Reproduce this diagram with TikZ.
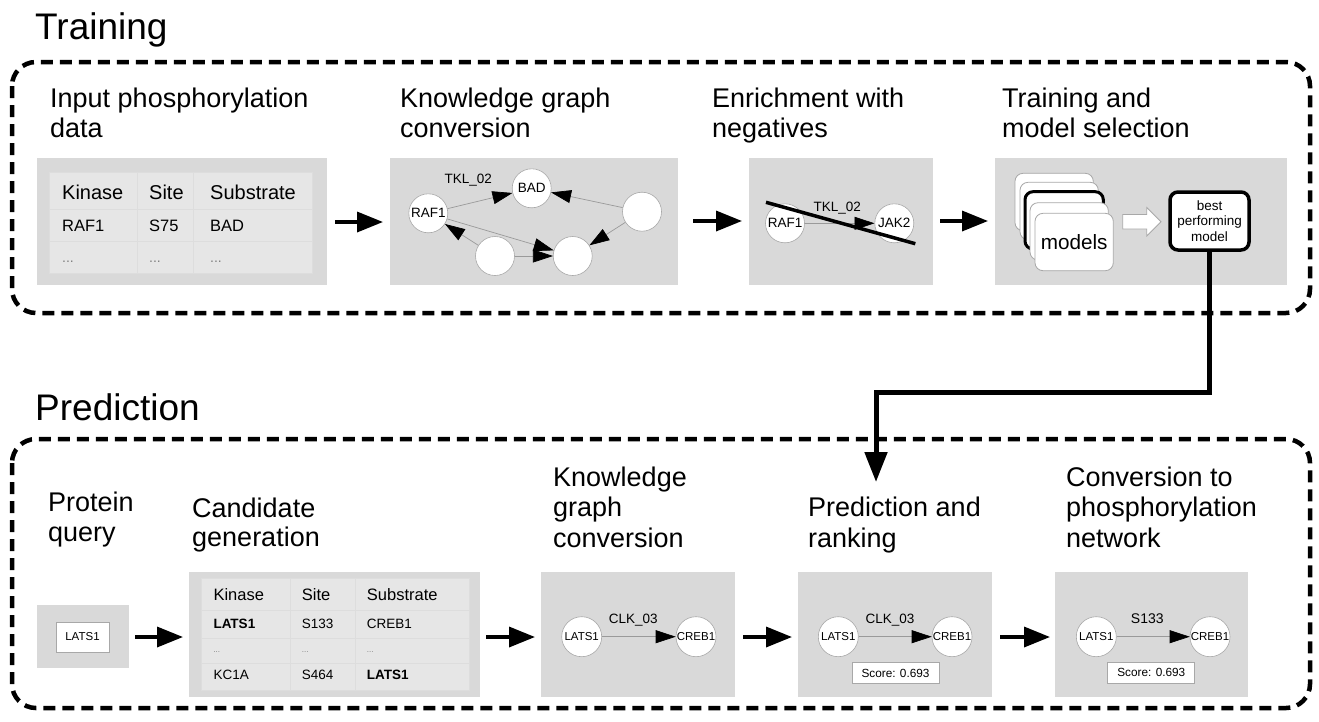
\documentclass[tikz,border=0pt]{standalone}
\usepackage{fontspec}
\setmainfont{Liberation Sans}
\usetikzlibrary{arrows.meta}
\definecolor{panelgray}{HTML}{D9D9D9}
\definecolor{cellgray}{HTML}{E6E6E6}
\definecolor{cellline}{HTML}{DDDDDD}
\definecolor{edgegray}{HTML}{9A9A9A}
\definecolor{ringgray}{HTML}{A8A8A8}
\begin{document}
\begin{tikzpicture}[x=1pt,y=-1pt,
  bigtitle/.style={anchor=base west,inner sep=0pt,font=\fontsize{37}{40}\selectfont},
  steptitle/.style={anchor=base west,inner sep=0pt,font=\fontsize{27}{32}\selectfont},
  stagebox/.style={draw=black,line width=4.5pt,dash pattern=on 12pt off 7pt,rounded corners=24pt},
  panel/.style={fill=panelgray,draw=none},
  cell/.style={fill=cellgray,draw=cellline,line width=1pt},
  cellA/.style={anchor=base west,inner sep=0pt,font=\fontsize{20}{22}\selectfont},
  cellB/.style={anchor=base west,inner sep=0pt,font=\fontsize{16.5}{18}\selectfont},
  cellC/.style={anchor=base west,inner sep=0pt,font=\fontsize{16.5}{18}\selectfont},
  cellD/.style={anchor=base west,inner sep=0pt,font=\fontsize{13.5}{15}\selectfont},
  dots/.style={anchor=base west,inner sep=0pt,text=gray,font=\fontsize{14}{15}\selectfont},
  gnode/.style={circle,fill=white,draw=ringgray,line width=0.6pt,minimum size=39pt,inner sep=0pt,font=\fontsize{13.5}{15}\selectfont},
  snode/.style={circle,fill=white,draw=ringgray,line width=0.6pt,minimum size=40pt,inner sep=0pt,font=\fontsize{11.5}{13}\selectfont},
  gedge/.style={draw=edgegray,line width=0.7pt,-{Triangle[length=20pt,width=13pt,color=black]}},
  elabel/.style={anchor=base,inner sep=0pt,font=\fontsize{13.5}{15}\selectfont},
  flow/.style={line width=3.5pt,-{Triangle[length=26pt,width=20pt]}},
  card/.style={fill=white,draw=ringgray,line width=0.8pt,rounded corners=8pt},
  scorebox/.style={fill=white,draw=ringgray,line width=0.8pt,minimum width=87pt,minimum height=21pt,inner sep=0pt,font=\fontsize{11.8}{13}\selectfont},
  conn/.style={line width=5pt,-{Triangle[length=30pt,width=22pt]}}
]
\useasboundingbox (0,0) rectangle (1319,721);

% ---------------- Training ----------------
\node[bigtitle] (ttrain) at (35,39) {Training};
\draw[stagebox] (12,62) rectangle (1310,313);

\node[steptitle] (t1a) at (50,107) {Input phosphorylation};
\node[steptitle] (t1b) at (50,137.5) {data};
\node[steptitle] (t2a) at (400,107) {Knowledge graph};
\node[steptitle] (t2b) at (400,137.5) {conversion};
\node[steptitle] (t3a) at (712,107) {Enrichment with};
\node[steptitle] (t3b) at (712,137.5) {negatives};
\node[steptitle] (t4a) at (1002,107) {Training and};
\node[steptitle] (t4b) at (1002,137.5) {model selection};

% panel 1: table
\fill[panel] (37,158) rectangle (327,285);
\foreach \ya/\yb in {172.7/209.3,209.3/241.7,241.7/273.3}{
  \foreach \xa/\xb in {49.3/137.3,137.3/193.3,193.3/312.7}{
    \draw[cell] (\xa,\ya) rectangle (\xb,\yb);
  }
}
\node[cellA] (h1) at (62,199) {Kinase};
\node[cellA] (h2) at (149,199) {Site};
\node[cellA] (h3) at (210,199) {Substrate};
\node[cellB] (r1a) at (62,231.5) {RAF1};
\node[cellB] (r1b) at (149,231.5) {S75};
\node[cellB] (r1c) at (210,231.5) {BAD};
\node[dots] (d1a) at (62,262) {...};
\node[dots] (d1b) at (149,262) {...};
\node[dots] (d1c) at (210,262) {...};

% panel 2: knowledge graph
\fill[panel] (390,158) rectangle (678,285);
\node[gnode] (raf) at (428.3,213.3) {RAF1};
\node[gnode] (bad) at (531.7,188.3) {BAD};
\node[gnode] (nr) at (642,211.7) {};
\node[gnode] (nbl) at (495,256) {};
\node[gnode] (nbr) at (572.7,256) {};
\draw[gedge] (raf) -- (bad);
\draw[gedge] (nr) -- (bad);
\draw[gedge] (nbl) -- (raf);
\draw[gedge] (raf) -- (nbr);
\draw[gedge] (nbl) -- (nbr);
\draw[gedge] (nr) -- (nbr);
\node[elabel] (lab2) at (468.3,183.3) {TKL\_02};

% panel 3: negatives
\fill[panel] (749,158) rectangle (933,285);
\node[gnode] (raf3) at (785,223.3) {RAF1};
\node[gnode] (jak) at (894.3,223.3) {JAK2};
\draw[gedge] (raf3) -- (jak);
\node[elabel] (lab3) at (837.3,211.7) {TKL\_02};
\coordinate (sl1) at (766,202.3);
\coordinate (sl2) at (915.3,243.7);
\draw[line width=3.5pt] (sl1) -- (sl2);

% panel 4: models
\fill[panel] (995,158) rectangle (1287,285);
\draw[card] (1015,173.3) rectangle (1093.3,230.7);
\draw[card] (1020,182.3) rectangle (1098.3,239.7);
\draw[card,draw=black,line width=3pt] (1025,191.7) rectangle (1103.3,249);
\draw[card] (1030,202.7) rectangle (1108.3,260);
\draw[card] (1035,213.3) rectangle (1113.3,270.7);
\node[inner sep=0pt,font=\fontsize{20.7}{22}\selectfont] (models) at (1074.2,242) {models};
\draw[fill=white,draw=ringgray,line width=0.8pt]
  (1122.7,214.5) -- (1146.7,214.5) -- (1146.7,207.5) -- (1161,221.7) -- (1146.7,236) -- (1146.7,229) -- (1122.7,229) -- cycle;
\node[fill=white,draw=black,line width=3.5pt,rounded corners=8pt,minimum width=79pt,minimum height=58pt,inner sep=0pt,align=center,font=\fontsize{13.5}{15.5}\selectfont] (best) at (1209.5,221) {best\\performing\\model};

% ---------------- Prediction ----------------
\node[bigtitle] (tpred) at (35,420) {Prediction};
\draw[stagebox] (12,439) rectangle (1310,708);

\node[steptitle] (p1a) at (48,511) {Protein};
\node[steptitle] (p1b) at (48,541) {query};
\node[steptitle] (p2a) at (192,517) {Candidate};
\node[steptitle] (p2b) at (192,546) {generation};
\node[steptitle] (p3a) at (553,486) {Knowledge};
\node[steptitle] (p3b) at (553,516.5) {graph};
\node[steptitle] (p3c) at (553,547) {conversion};
\node[steptitle] (p4a) at (808,516.5) {Prediction and};
\node[steptitle] (p4b) at (808,547) {ranking};
\node[steptitle] (p5a) at (1066,486) {Conversion to};
\node[steptitle] (p5b) at (1066,516.5) {phosphorylation};
\node[steptitle] (p5c) at (1066,547) {network};

% query
\fill[panel] (37,605) rectangle (129,668);
\node[fill=white,draw=ringgray,line width=0.8pt,minimum width=53pt,minimum height=30pt,inner sep=0pt,font=\fontsize{11.5}{13}\selectfont] (query) at (82.5,637) {LATS1};

% candidate table
\fill[panel] (189.3,571.7) rectangle (480,696.7);
\foreach \ya/\yb in {578.3/610,610/638.3,638.3/663.3,663.3/690}{
  \foreach \xa/\xb in {201/290,290/355,355/469}{
    \draw[cell] (\xa,\ya) rectangle (\xb,\yb);
  }
}
\node[cellC] (ch1) at (213.3,600) {Kinase};
\node[cellC] (ch2) at (301.7,600) {Site};
\node[cellC] (ch3) at (366.7,600) {Substrate};
\node[cellD] (cr1a) at (213.3,628.5) {\textbf{LATS1}};
\node[cellD] (cr1b) at (301.7,628.5) {S133};
\node[cellD] (cr1c) at (366.7,628.5) {CREB1};
\node[dots,font=\fontsize{8}{9}\selectfont] (cd1) at (213.3,652) {...};
\node[dots,font=\fontsize{8}{9}\selectfont] (cd2) at (301.7,652) {...};
\node[dots,font=\fontsize{8}{9}\selectfont] (cd3) at (366.7,652) {...};
\node[cellD] (cr2a) at (213.3,679.5) {KC1A};
\node[cellD] (cr2b) at (301.7,679.5) {S464};
\node[cellD] (cr2c) at (366.7,679.5) {\textbf{LATS1}};

% KG conversion
\fill[panel] (540.7,571.7) rectangle (734.7,696.7);
\node[snode] (kl) at (581.7,636.7) {LATS1};
\node[snode] (kc) at (696,636.7) {CREB1};
\draw[gedge] (kl) -- (kc);
\node[elabel] (klab) at (633.3,623.3) {CLK\_03};

% prediction and ranking
\fill[panel] (798.3,571.7) rectangle (991.7,696.7);
\node[snode] (pl) at (838.3,636.7) {LATS1};
\node[snode] (pc) at (952,636.7) {CREB1};
\draw[gedge] (pl) -- (pc);
\node[elabel] (plab) at (890,623.3) {CLK\_03};
\node[scorebox] (ps) at (895.5,673.3) {Score: 0.693};

% conversion to network
\fill[panel] (1055,571.7) rectangle (1248.3,696.7);
\node[snode] (nl) at (1096.3,636.7) {LATS1};
\node[snode] (nc) at (1210,636.7) {CREB1};
\draw[gedge] (nl) -- (nc);
\node[elabel,font=\fontsize{14}{15}\selectfont] (nlab) at (1147.3,623.3) {S133};
\node[scorebox] (ns) at (1151.3,672.8) {Score: 0.693};

% ---------------- flow arrows ----------------
\coordinate (a1s) at (335,222); \coordinate (a1e) at (383,222);
\coordinate (a2s) at (693,221); \coordinate (a2e) at (742,221);
\coordinate (a3s) at (940,221); \coordinate (a3e) at (988,221);
\draw[flow] (a1s) -- (a1e);
\draw[flow] (a2s) -- (a2e);
\draw[flow] (a3s) -- (a3e);
\coordinate (b1s) at (135,637); \coordinate (b1e) at (183,637);
\coordinate (b2s) at (486,637); \coordinate (b2e) at (535,637);
\coordinate (b3s) at (743,637); \coordinate (b3e) at (792,637);
\coordinate (b4s) at (1000,637); \coordinate (b4e) at (1050,637);
\draw[flow] (b1s) -- (b1e);
\draw[flow] (b2s) -- (b2e);
\draw[flow] (b3s) -- (b3e);
\draw[flow] (b4s) -- (b4e);

% connector from best model to prediction
\coordinate (turn) at (876,392);
\coordinate (predin) at (876,482);
\draw[conn] (best.south) |- (turn) -- (predin);
\end{tikzpicture}
\end{document}
